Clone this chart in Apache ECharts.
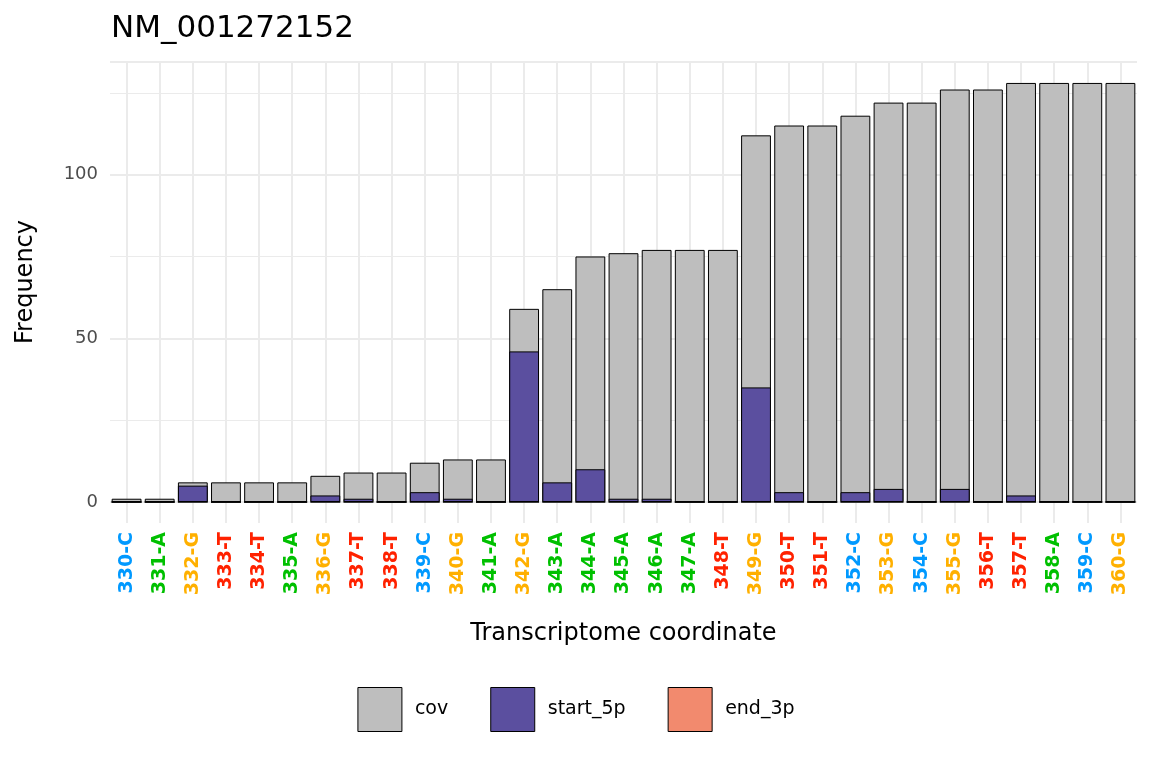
<!DOCTYPE html>
<html>
<head>
<meta charset="utf-8">
<script src="https://cdn.jsdelivr.net/npm/echarts@6/dist/echarts.min.js"></script>
<style>html,body{margin:0;padding:0;background:#fff}#chart{width:1152px;height:768px}</style>
</head>
<body>
<div id="chart"></div>
<script>
const categories = ['330-C','331-A','332-G','333-T','334-T','335-A','336-G','337-T','338-T','339-C','340-G','341-A','342-G','343-A','344-A','345-A','346-A','347-A','348-T','349-G','350-T','351-T','352-C','353-G','354-C','355-G','356-T','357-T','358-A','359-C','360-G'];
const cov = [1,1,6,6,6,6,8,9,9,12,13,13,59,65,75,76,77,77,77,112,115,115,118,122,122,126,126,128,128,128,128];
const start5p = [0,0,5,0,0,0,2,1,0,3,1,0,46,6,10,1,1,0,0,35,3,0,3,4,0,4,0,2,0,0,0];
const end3p = [0,0,0,0,0,0,0,0,0,0,0,0,0,0,0,0,0,0,0,0,0,0,0,0,0,0,0,0,0,0,0];
const yTicks = [0, 50, 100];

const chart = echarts.init(document.getElementById('chart'));
const font = 'DejaVu Sans';
const barStyle = c => ({ color: c, borderColor: '#000', borderWidth: 1 });
const lab = c => ({ color: c, fontWeight: 'bold', fontSize: 19, fontFamily: font });

chart.setOption({
  animation: false,
  textStyle: { fontFamily: font },
  title: { text: 'NM_001272152', left: 106, top: 8, textStyle: { fontSize: 31, fontWeight: 'normal', color: '#000', fontFamily: font } },
  grid: [
    { left: 110, right: 15, top: 62, bottom: 266 },
    { left: 110, right: 15, top: 62, bottom: 245 }
  ],
  legend: {
    bottom: 31, left: 'center', itemWidth: 44, itemHeight: 44, itemGap: 42, icon: 'rect',
    data: ['cov', 'start_5p', 'end_3p'],
    textStyle: { fontSize: 19, color: '#000', padding: [0, 0, 0, 8] },
    itemStyle: { borderColor: '#000', borderWidth: 1 }
  },
  xAxis: [{
    type: 'category', data: categories, gridIndex: 0,
    name: 'Transcriptome coordinate', nameLocation: 'middle', nameGap: 120,
    nameTextStyle: { fontSize: 24, color: '#000' },
    axisLine: { show: false }, axisTick: { show: false }, splitLine: { show: false },
    axisLabel: {
      rotate: 90, interval: 0, margin: 30,
      formatter: v => '{' + v.slice(-1) + '|' + v + '}',
      rich: { C: lab('#0099FF'), A: lab('#00C000'), G: lab('#FFB000'), T: lab('#FF2200') }
    }
  }, {
    type: 'value', gridIndex: 1, min: 0, max: 62, interval: 1,
    axisLine: { show: false }, axisTick: { show: false }, axisLabel: { show: false },
    splitLine: { lineStyle: { color: ['rgba(0,0,0,0)', '#EBEBEB'], width: 2 } }
  }],
  yAxis: [{
    type: 'value', gridIndex: 0, min: 0, max: 134.4, interval: 50,
    name: 'Frequency', nameLocation: 'middle', nameGap: 72,
    nameTextStyle: { fontSize: 24, color: '#000' },
    axisLabel: { fontSize: 18, color: '#4d4d4d', margin: 12, showMaxLabel: false,
      formatter: v => yTicks.includes(v) ? String(v) : '' },
    splitLine: { lineStyle: { color: '#EBEBEB', width: 2 } },
    minorTick: { show: false, splitNumber: 2 },
    minorSplitLine: { show: true, lineStyle: { color: '#EBEBEB', width: 1 } }
  }, {
    type: 'value', gridIndex: 1, show: false, splitLine: { show: false }
  }],
  series: [
    { name: 'cov', type: 'bar', data: cov, barWidth: '90%', barGap: '-100%', z: 2, itemStyle: barStyle('#BEBEBE') },
    { name: 'start_5p', type: 'bar', data: start5p, barWidth: '90%', barGap: '-100%', z: 3, itemStyle: barStyle('#5B4F9F') },
    { name: 'end_3p', type: 'bar', data: end3p, barWidth: '90%', barGap: '-100%', z: 4, itemStyle: barStyle('#F28A6E') }
  ]
});
</script>
</body>
</html>
